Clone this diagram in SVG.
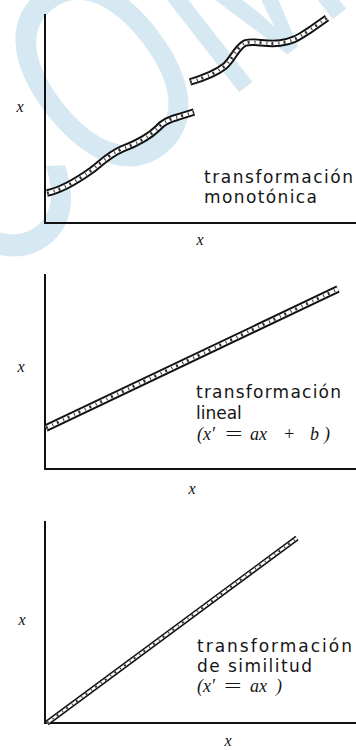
<svg xmlns="http://www.w3.org/2000/svg" width="356" height="750" viewBox="0 0 356 750">
<style>
.wm{font-family:"Liberation Sans",Arial,sans-serif;font-size:290px;fill:#d6e8f1}
.axis{stroke:#111;stroke-width:2;fill:none;stroke-linecap:square}
.rib-o{fill:none;stroke:#111;stroke-width:7.5;stroke-linecap:butt;stroke-linejoin:round}
.rib-i{fill:none;stroke:#fff;stroke-width:3.6;stroke-linecap:butt;stroke-linejoin:round}
.rib-t{fill:none;stroke:#333;stroke-width:3;stroke-dasharray:2 5 1 4;stroke-linejoin:round}
.lbl{font-family:"DejaVu Sans","Liberation Sans",sans-serif;font-size:17px;fill:#151515}
.var{font-family:"Liberation Serif","Times New Roman",serif;font-style:italic;font-size:16px;fill:#111}
.frm{font-family:"Liberation Serif","Times New Roman",serif;font-style:italic;font-size:18px;fill:#151515}
</style>
<rect width="356" height="750" fill="#fff"/>
<g id="watermark">
<text class="wm" transform="translate(-13.9,290) rotate(-38) scale(0.7,1)" x="0" y="0">COM</text>
</g>

<g id="plot1">
<path class="axis" d="M45,15 V223 H355"/>
<text class="var" x="20" y="112" text-anchor="middle">x</text>
<text class="var" x="200" y="245" text-anchor="middle">x</text>
<g id="curve1a">
<path class="rib-o" d="M47,193 C62,190 78,180 92,170 C102,162 110,154 122,149 C135,144 148,138 158,128 C163,122 170,119 178,117 L194,112"/>
<path class="rib-i" d="M47,193 C62,190 78,180 92,170 C102,162 110,154 122,149 C135,144 148,138 158,128 C163,122 170,119 178,117 L194,112"/>
<path class="rib-t" d="M47,193 C62,190 78,180 92,170 C102,162 110,154 122,149 C135,144 148,138 158,128 C163,122 170,119 178,117 L194,112"/>
</g>
<g id="curve1b">
<path class="rib-o" d="M190,82 C200,79 215,74 225,66 C233,59 236,48 245,43 C255,40 265,45 280,43 C295,41 300,36 310,30 L327,18"/>
<path class="rib-i" d="M190,82 C200,79 215,74 225,66 C233,59 236,48 245,43 C255,40 265,45 280,43 C295,41 300,36 310,30 L327,18"/>
<path class="rib-t" d="M190,82 C200,79 215,74 225,66 C233,59 236,48 245,43 C255,40 265,45 280,43 C295,41 300,36 310,30 L327,18"/>
</g>
<text class="lbl" x="204" y="183" textLength="149" lengthAdjust="spacing">transformación</text>
<text class="lbl" x="204" y="203" textLength="113" lengthAdjust="spacing">monotónica</text>
</g>

<g id="plot2">
<path class="axis" d="M45,275 V469 H355"/>
<text class="var" x="21" y="372" text-anchor="middle">x</text>
<text class="var" x="192" y="494" text-anchor="middle">x</text>
<g id="line2">
<path class="rib-o" d="M46,428 L338,289"/>
<path class="rib-i" d="M46,428 L338,289"/>
<path class="rib-t" d="M46,428 L338,289"/>
</g>
<text class="lbl" x="196" y="398" textLength="145" lengthAdjust="spacing">transformación</text>
<text class="lbl" x="196" y="419">lineal</text>
<text class="frm" y="440"><tspan x="197">(x′</tspan><tspan x="250">ax</tspan><tspan x="283">+</tspan><tspan x="310">b</tspan><tspan x="324">)</tspan></text>
<text class="frm" x="223" y="440" textLength="21" lengthAdjust="spacingAndGlyphs">=</text>
</g>

<g id="plot3">
<path class="axis" d="M45,522 V723 H355"/>
<text class="var" x="22" y="625" text-anchor="middle">x</text>
<text class="var" x="228" y="746" text-anchor="middle">x</text>
<g id="line3">
<path class="rib-o" d="M47,723 L297,538" style="stroke-width:5.5"/>
<path class="rib-i" d="M47,723 L297,538" style="stroke-width:2.4"/>
<path class="rib-t" d="M47,723 L297,538" style="stroke-width:2"/>
</g>
<text class="lbl" x="197" y="652" textLength="155" lengthAdjust="spacing">transformación</text>
<text class="lbl" x="197" y="672" textLength="115" lengthAdjust="spacing">de similitud</text>
<text class="frm" y="692"><tspan x="197">(x′</tspan><tspan x="250">ax</tspan><tspan x="276">)</tspan></text>
<text class="frm" x="222" y="692" textLength="21" lengthAdjust="spacingAndGlyphs">=</text>
</g>
</svg>
